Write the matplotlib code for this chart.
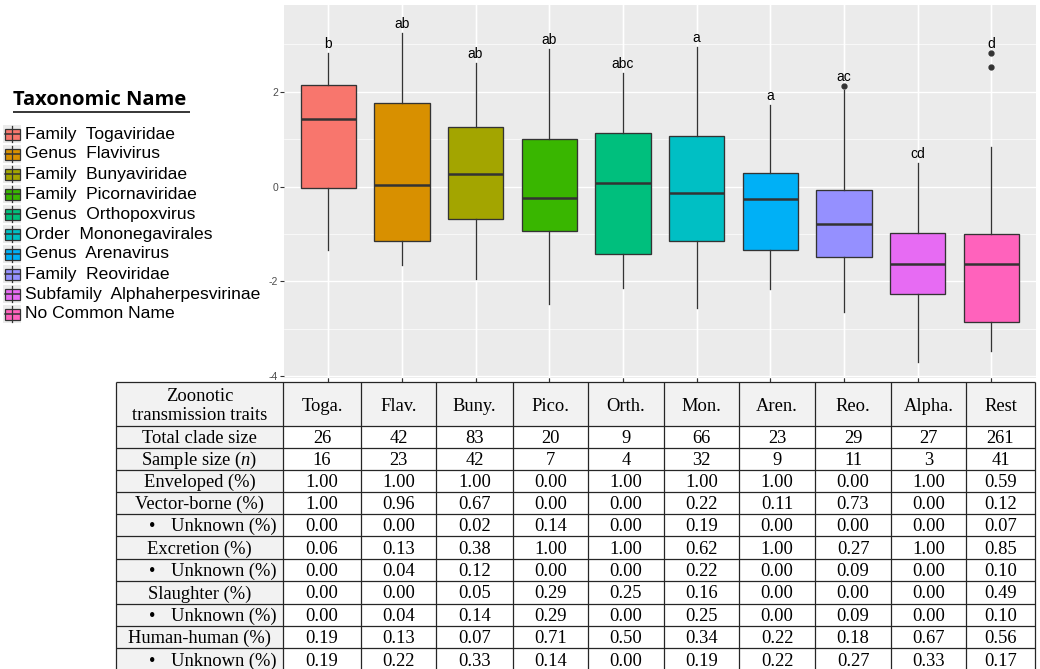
import matplotlib
matplotlib.use("Agg")
import matplotlib.pyplot as plt
from matplotlib.patches import Rectangle

plt.rcParams['mathtext.fontset'] = 'custom'
plt.rcParams['mathtext.rm'] = 'Liberation Serif'
plt.rcParams['mathtext.it'] = 'Liberation Serif:italic'

# ---- boxplot summaries (log scale score) per clade ----
short_names = ["Toga.", "Flav.", "Buny.", "Pico.", "Orth.", "Mon.", "Aren.", "Reo.", "Alpha.", "Rest"]
legend_names = ["Family  Togaviridae", "Genus  Flavivirus", "Family  Bunyaviridae",
                "Family  Picornaviridae", "Genus  Orthopoxvirus", "Order  Mononegavirales",
                "Genus  Arenavirus", "Family  Reoviridae", "Subfamily  Alphaherpesvirinae",
                "No Common Name"]
colors = ["#F8766D", "#D89000", "#A3A500", "#39B600", "#00BF7D",
          "#00BFC4", "#00B0F6", "#9590FF", "#E76BF3", "#FF62BC"]

whislo = [-1.33, -1.66, -1.96, -2.47, -2.15, -2.57, -2.17, -2.64, -3.71, -3.48]
q1 = [-0.04, -1.14, -0.69, -0.93, -1.42, -1.14, -1.33, -1.49, -2.26, -2.85]
med = [1.42, 0.04, 0.26, -0.25, 0.07, -0.13, -0.27, -0.80, -1.63, -1.64]
q3 = [2.14, 1.76, 1.26, 1.00, 1.12, 1.07, 0.29, -0.07, -0.98, -1.01]
whishi = [2.81, 3.24, 2.61, 2.91, 2.40, 2.94, 1.73, 2.04, 0.50, 0.84]
fliers = [[], [], [], [], [], [], [], [2.13], [], [2.81, 2.53]]
letters = ["b", "ab", "ab", "ab", "abc", "a", "a", "ac", "cd", "d"]

# ---- trait table ----
header_label = "Zoonotic\ntransmission traits"
row_labels = ["Total clade size", "Sample size ($\\mathit{n}$)", "Enveloped (%)",
              "Vector-borne (%)", "\u2022 Unknown (%)", "Excretion (%)", "\u2022 Unknown (%)",
              "Slaughter (%)", "\u2022 Unknown (%)", "Human-human (%)", "\u2022 Unknown (%)"]
clade_size = ["26", "42", "83", "20", "9", "66", "23", "29", "27", "261"]
sample_size = ["16", "23", "42", "7", "4", "32", "9", "11", "3", "41"]
enveloped = ["1.00", "1.00", "1.00", "0.00", "1.00", "1.00", "1.00", "0.00", "1.00", "0.59"]
vector = ["1.00", "0.96", "0.67", "0.00", "0.00", "0.22", "0.11", "0.73", "0.00", "0.12"]
vector_unk = ["0.00", "0.00", "0.02", "0.14", "0.00", "0.19", "0.00", "0.00", "0.00", "0.07"]
excretion = ["0.06", "0.13", "0.38", "1.00", "1.00", "0.62", "1.00", "0.27", "1.00", "0.85"]
excretion_unk = ["0.00", "0.04", "0.12", "0.00", "0.00", "0.22", "0.00", "0.09", "0.00", "0.10"]
slaughter = ["0.00", "0.00", "0.05", "0.29", "0.25", "0.16", "0.00", "0.00", "0.00", "0.49"]
slaughter_unk = ["0.00", "0.04", "0.14", "0.29", "0.00", "0.25", "0.00", "0.09", "0.00", "0.10"]
human = ["0.19", "0.13", "0.07", "0.71", "0.50", "0.34", "0.22", "0.18", "0.67", "0.56"]
human_unk = ["0.19", "0.22", "0.33", "0.14", "0.00", "0.19", "0.22", "0.27", "0.33", "0.17"]
table_rows = [clade_size, sample_size, enveloped, vector, vector_unk, excretion,
              excretion_unk, slaughter, slaughter_unk, human, human_unk]

W, H = 1040, 669
fig = plt.figure(figsize=(W / 100, H / 100), dpi=100)
fig.patch.set_facecolor("white")

# ---- ggplot-like panel ----
ax = fig.add_axes([284 / W, 1 - 378 / H, (1035.5 - 284) / W, 373 / H])
ax.set_facecolor("#EBEBEB")
for s in ax.spines.values():
    s.set_visible(False)
ax.set_xlim(0.4, 10.6)
ax.set_ylim(-4.04, 3.83)
ax.set_yticks([-4, -2, 0, 2])
ax.set_yticklabels(["-4", "-2", "0", "2"])
ax.set_yticks([-3, -1, 1, 3], minor=True)
ax.set_xticks(range(1, 11))
ax.set_xticklabels([])
ax.tick_params(axis="both", which="major", length=2.8, width=0.8, color="#333333",
               labelsize=7.5, labelcolor="#4D4D4D", pad=1.5)
ax.tick_params(axis="y", which="minor", length=0)
for lab in ax.get_yticklabels():
    lab.set_family("Liberation Sans")
ax.grid(True, which="major", color="white", lw=1.0)
ax.grid(True, which="minor", axis="y", color="white", lw=0.5)
ax.set_axisbelow(True)

stats = []
for i in range(len(short_names)):
    stats.append(dict(whislo=whislo[i], q1=q1[i], med=med[i], q3=q3[i],
                      whishi=whishi[i], fliers=fliers[i]))
bp = ax.bxp(stats, positions=range(1, 11), widths=0.75, patch_artist=True,
            showcaps=False,
            boxprops=dict(edgecolor="#333333", lw=0.95),
            medianprops=dict(color="#333333", lw=1.8),
            whiskerprops=dict(color="#333333", lw=0.95),
            flierprops=dict(marker="o", markerfacecolor="#333333",
                            markeredgecolor="#333333", markersize=3.5))
for patch, c in zip(bp["boxes"], colors):
    patch.set_facecolor(c)

for i, let in enumerate(letters):
    top = max([whishi[i]] + fliers[i])
    ax.text(i + 1, top + 0.19, let, ha="center", va="center", fontsize=10,
            family="Liberation Sans", color="black")

# ---- overlay in pixel space for legend and table ----
ov = fig.add_axes([0, 0, 1, 1], zorder=5)
ov.set_xlim(0, W)
ov.set_ylim(H, 0)
ov.axis("off")

# legend
ov.text(13, 100, "Taxonomic Name", fontsize=14.5, fontweight="bold",
        family="Open Sans", ha="left", va="center", color="black")
ov.plot([13, 190], [111.5, 111.5], color="black", lw=1.1, solid_capstyle="butt")
for k, (name, c) in enumerate(zip(legend_names, colors)):
    yc = 134 + 20 * k
    ov.add_patch(Rectangle((3, yc - 9), 18, 18, facecolor="#EBEBEB", edgecolor="none"))
    ov.plot([12, 12], [yc - 8, yc + 8], color="#333333", lw=0.9)
    ov.add_patch(Rectangle((4.5, yc - 5.5), 15, 11, facecolor=c,
                           edgecolor="#333333", lw=0.9))
    ov.plot([4.5, 19.5], [yc, yc], color="#333333", lw=1.1)
    ov.text(25, yc, name, fontsize=12.6, family="Liberation Sans",
            ha="left", va="center", color="black")

# table
col_edges = [116, 283, 361, 436, 513, 588, 664, 739, 815, 891, 966, 1035]
row_edges = [382, 426, 448, 470, 492, 514, 536, 559, 581, 604, 626, 648, 671]
gray = "#F2F2F2"
ov.add_patch(Rectangle((col_edges[0], row_edges[0]), col_edges[-1] - col_edges[0],
                       row_edges[1] - row_edges[0], facecolor=gray, edgecolor="none"))
ov.add_patch(Rectangle((col_edges[0], row_edges[1]), col_edges[1] - col_edges[0],
                       row_edges[-1] - row_edges[1], facecolor=gray, edgecolor="none"))
ov.add_patch(Rectangle((col_edges[1], row_edges[1]), col_edges[-1] - col_edges[1],
                       row_edges[-1] - row_edges[1], facecolor="white", edgecolor="none"))
ov.hlines(row_edges, col_edges[0], col_edges[-1], color="#262626", lw=0.9)
ov.vlines(col_edges, row_edges[0], row_edges[-1], color="#262626", lw=0.9)

tfont = dict(family="Liberation Serif", fontsize=13.3, color="black")
dy = 1.5
cx0 = (col_edges[0] + col_edges[1]) / 2
ov.text(cx0, (row_edges[0] + row_edges[1]) / 2 + 2, header_label, ha="center",
        va="center", linespacing=1.15, **tfont)
for j, nm in enumerate(short_names):
    cx = (col_edges[j + 1] + col_edges[j + 2]) / 2
    ov.text(cx, (row_edges[0] + row_edges[1]) / 2 + 2.5, nm, ha="center", va="center",
            **tfont)

for r, (lab, vals) in enumerate(zip(row_labels, table_rows)):
    yc = (row_edges[r + 1] + row_edges[r + 2]) / 2 + dy
    if lab.startswith("\u2022"):
        ov.text(152, yc, "\u2022", ha="center", va="center", **tfont)
        ov.text(171, yc, lab[2:], ha="left", va="center", **tfont)
    else:
        ov.text(cx0, yc, lab, ha="center", va="center", **tfont)
    for j, v in enumerate(vals):
        cx = (col_edges[j + 1] + col_edges[j + 2]) / 2
        ov.text(cx, yc, v, ha="center", va="center", **tfont)

fig.savefig("out.png", dpi=100)
